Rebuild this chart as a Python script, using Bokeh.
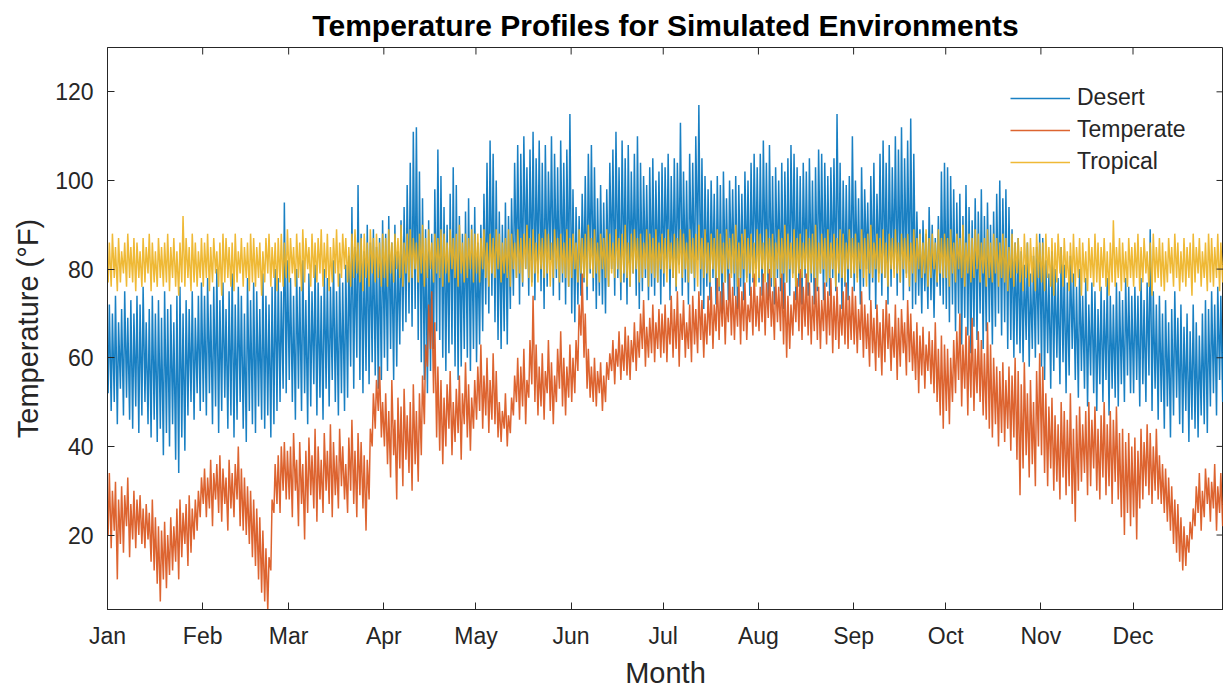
from bokeh.plotting import figure
from bokeh.models import FixedTicker, Legend, LegendItem, Range1d
from bokeh.embed import file_html
from bokeh.resources import INLINE

# ---- tick labels ------------------------------------------------------------
month_labels = ["Jan", "Feb", "Mar", "Apr", "May", "Jun",
                "Jul", "Aug", "Sep", "Oct", "Nov", "Dec"]
month_start_days = [0, 31, 59, 90, 120, 151, 181, 212, 243, 273, 304, 334]
y_ticks = [20, 40, 60, 80, 100, 120]

# ---- daily highs / lows (°F), one value per day of the year ----------------
desert_hi = (
    [72,70,74,68,71,75,69,73,70,74, 72,76,68,71,74,70,73,69,75,71, 72,68,74,76,70,73,71,75,69,74, 77]
  + [74,78,72,76,80,73,77,71,75,79, 72,76,74,70,78,73,77,75,71,79, 74,72,76,80,78,75,95,82]
  + [78,74,80,76,82,73,79,75,81,77, 74,80,78,76,82,75,79,77,81,83, 94,85,99,88,84,90,86,89,85,87, 91]
  + [88,92,86,90,84,91,94,99,104,111, 112,102,96,89,91,88,98,107,101,94, 90,97,103,99,92,88,93,96,90,94]
  + [86,90,97,104,109,106,100,93,90,95, 92,96,104,108,106,110,103,107,111,105, 109,104,108,102,110,106,103,109,104,107, 115]
  + [98,94,92,97,101,106,108,103,96,99, 95,98,104,107,111,103,109,105,108,102, 106,110,104,101,99,103,105,100,102,104]
  + [103,106,101,105,104,113,102,100,106,104, 110,117,105,101,98,100,97,101,99,102, 96,100,98,101,99,97,102,100,104,106, 103]
  + [106,109,104,108,101,103,100,104,102,105, 108,106,103,101,104,102,105,100,103,107, 106,104,101,103,105,115,104,100,99,101, 110]
  + [100,96,103,98,95,101,104,97,106,109, 104,108,103,110,107,112,105,109,114,106, 93,89,91,88,94,90,87,92,102,104]
  + [103,101,98,95,97,92,99,94,91,96, 93,98,92,95,90,93,97,100,96,98, 94,89,86,87,84,81,86,79,83,85, 88]
  + [87,82,79,84,80,78,85,81,77,83, 79,76,80,74,78,72,77,75,71,76, 73,78,74,72,77,75,73,78,76,74]
  + [76,74,78,73,77,89,75,72,74,70, 73,68,71,75,69,72,67,70,66,72, 68,65,70,73,71,75,72,76,74,71, 73]
)
desert_lo = (
    [52,48,50,45,53,47,51,46,44,49, 43,47,50,45,42,46,41,44,38,43, 40,45,37,34,42,39,47,50,46,52, 48]
  + [50,47,52,45,49,43,48,51,44,47, 42,46,50,44,41,48,45,43,49,46, 44,47,42,45,48,50,53,52]
  + [55,50,46,53,48,52,45,49,54,47, 51,46,53,49,55,50,47,52,48,51, 58,53,60,55,52,57,54,59,56,53, 55]
  + [60,57,62,55,58,63,66,68,70,67, 71,64,59,55,52,57,62,66,64,60, 57,61,63,58,55,58,62,60,57,62]
  + [59,63,66,72,70,74,68,64,62,66, 63,71,74,78,72,76,80,74,77,73, 79,75,71,76,82,74,78,73,77,72, 76]
  + [70,68,72,74,77,73,79,75,71,74, 72,70,76,80,74,78,73,77,72,76, 79,74,71,75,78,73,76,74,77,72]
  + [76,80,73,78,75,81,74,77,72,79, 75,82,74,71,76,73,78,72,75,70, 77,73,79,74,71,76,73,78,74,77, 80]
  + [77,74,79,73,76,72,78,75,71,77, 74,79,73,76,72,78,74,77,72,75, 79,73,76,74,78,75,77,71,76,73, 78]
  + [75,78,72,76,80,73,77,71,79,74, 78,72,76,80,74,77,73,79,75,71, 72,74,70,75,71,73,69,76,74,72]
  + [71,68,72,66,70,63,69,65,61,67, 64,70,62,66,68,63,67,70,65,68, 62,64,60,63,61,59,64,58,62,60, 63]
  + [58,55,61,53,57,60,54,59,52,56, 62,55,51,57,53,49,56,52,48,54, 50,55,47,53,51,49,54,50,56,52]
  + [52,55,49,54,50,56,48,53,46,50, 44,49,42,47,51,45,43,48,41,46, 44,42,47,45,43,49,52,47,55,50, 53]
)

temperate_hi = (
    [34,30,32,28,31,29,33,27,30,28, 29,26,27,25,28,24,22,21,23,20, 24,22,26,28,25,27,29,26,28,30, 33]
  + [35,33,37,34,36,38,35,33,37,34, 36,40,35,33,31,30,28,26,24,21, 17,15,28,36,38,40,41,39]
  + [40,43,37,41,36,39,42,38,44,40, 37,43,39,45,41,38,44,40,36,42, 46,39,43,41,38,37,44,52,55,58, 50]
  + [52,48,55,46,51,49,53,47,50,54, 48,52,56,63,72,75,68,58,55,51, 54,57,50,53,56,52,59,54,51,55]
  + [58,63,56,60,55,61,57,50,48,52, 47,51,56,60,58,62,55,64,74,63, 58,61,57,64,59,56,62,66,60,58, 63]
  + [60,64,72,79,70,62,58,60,57,59, 56,59,61,64,62,66,63,67,65,64, 68,66,70,73,67,69,72,68,71,70]
  + [72,69,74,71,75,70,73,68,72,74, 71,75,73,70,74,76,72,78,75,77, 73,79,76,74,78,75,77,72,76,79, 74]
  + [76,79,77,80,75,78,76,79,77,74, 72,75,78,80,76,79,77,74,78,76, 73,77,75,78,74,76,72,75,77,74, 76]
  + [74,71,75,72,70,73,69,72,68,71, 73,70,67,72,69,71,68,73,70,66, 68,65,67,63,66,64,68,62,65,63]
  + [62,60,64,66,70,63,67,65,69,62, 66,64,61,68,63,60,58,57,59,55, 58,56,60,57,54,59,52,55,50,57, 61]
  + [58,52,49,51,47,45,50,48,46,52, 44,47,49,45,48,50,46,49,44,47, 50,45,48,46,49,43,44,41,43,40]
  + [42,39,44,41,45,43,40,44,38,36, 35,33,31,28,27,24,22,20,23,26, 31,34,30,35,33,32,36,31,34,30, 33]
)
temperate_lo = (
    [20,17,21,10,18,16,22,15,19,17, 20,18,17,19,14,12,9,5,10,8, 11,12,14,10,15,18,13,16,19,21, 24]
  + [27,24,26,22,28,25,23,27,21,26, 24,28,22,21,20,18,15,13,10,7, 5,3,12,25,27,25,30,28]
  + [28,24,30,22,27,19,25,29,26,23, 28,25,30,27,24,29,26,31,28,25, 30,27,24,29,26,21,28,40,44,48, 42]
  + [40,36,33,38,28,35,31,37,34,30, 36,32,38,45,58,62,52,42,39,36, 40,44,38,41,43,37,45,42,39,44]
  + [46,48,44,47,43,46,45,42,41,44, 40,43,47,50,46,49,45,51,54,50, 47,49,46,52,48,45,50,53,49,47, 51]
  + [50,52,57,65,60,53,51,50,49,52, 48,50,55,57,54,58,55,57,56,55, 59,57,60,62,58,60,61,59,62,60]
  + [61,59,63,60,62,58,64,60,62,59, 63,61,64,60,63,65,62,66,64,67, 63,68,65,64,67,63,66,64,68,65, 67]
  + [66,68,65,69,67,64,68,66,63,60, 62,65,68,66,64,67,65,63,66,64, 62,66,63,65,61,64,62,65,63,62, 64]
  + [63,61,64,60,62,58,61,57,60,56, 59,62,57,60,55,58,61,56,59,57, 55,52,56,53,57,54,52,50,47,44]
  + [48,45,50,52,55,49,53,47,51,48, 52,50,47,46,44,42,45,40,43,41, 44,39,42,37,29,35,38,33,36,31, 40]
  + [38,34,31,35,30,32,28,33,29,31, 27,23,30,32,34,29,31,35,30,28, 33,29,31,27,32,28,24,20,25,22]
  + [24,19,26,28,31,29,27,30,28,27, 25,23,21,18,16,14,12,13,16,19, 22,25,21,24,27,23,26,21,25,22, 24]
)

tropical_hi = (
    [86,88,85,87,84,86,88,85,87,86, 84,87,85,88,86,84,87,85,86,88, 85,87,84,86,92,87,85,88,86,84, 87]
  + [86,88,85,87,84,86,88,87,85,86, 88,84,87,85,86,88,87,85,86,84, 87,88,85,86,87,88,86,89]
  + [87,85,88,86,89,87,85,88,86,87, 89,86,88,85,87,89,86,88,87,85, 88,89,86,87,88,86,89,87,88,86, 88]
  + [87,89,86,88,87,90,86,88,89,87, 86,88,90,87,89,86,88,87,89,88, 86,89,87,88,90,86,88,87,89,88]
  + [88,87,89,86,88,87,89,88,86,87, 89,88,86,89,87,88,90,87,89,86, 88,87,89,88,86,89,87,88,86,89, 87]
  + [88,86,89,87,88,90,87,89,86,88, 87,89,88,86,89,87,88,90,86,88, 89,87,88,86,89,88,87,89,86,88]
  + [87,89,86,88,87,89,88,86,89,87, 88,90,87,89,86,88,87,89,88,86, 89,87,88,90,86,88,89,87,88,86, 89]
  + [88,86,89,87,88,86,89,87,90,88, 86,89,87,88,86,89,87,88,90,86, 88,87,89,86,88,87,89,88,86,89, 87]
  + [88,86,89,87,88,90,86,88,87,89, 86,88,87,89,86,88,87,88,86,89, 87,88,86,89,87,88,86,89,87,88]
  + [87,89,86,88,87,90,86,88,87,89, 88,86,87,89,86,88,87,86,88,87, 85,88,86,87,85,88,86,87,85,88, 86]
  + [86,88,85,87,86,88,85,87,84,86, 88,85,87,86,84,87,85,88,86,85, 87,84,86,91,85,87,86,84,87,85]
  + [86,88,85,87,84,86,88,85,87,86, 84,87,85,88,86,84,87,85,86,88, 85,87,84,86,88,87,85,88,86,84, 87]
)
tropical_lo = (
    [77,76,78,75,77,79,76,78,77,75, 78,76,77,79,75,77,76,78,76,77, 75,78,76,74,77,76,78,75,77,76, 78]
  + [76,78,75,77,79,76,74,77,78,76, 75,77,79,76,78,75,77,76,78,74, 77,79,76,78,75,77,76,78]
  + [77,79,76,78,75,77,80,76,78,77, 79,76,78,75,77,79,76,78,80,77, 76,78,79,77,75,78,76,79,77,78, 76]
  + [78,76,79,77,80,78,76,79,77,78, 80,77,79,76,78,80,77,79,78,76, 79,77,80,78,76,79,77,78,80,77]
  + [79,77,80,78,76,79,78,80,77,79, 78,76,80,78,79,77,80,78,76,79, 77,80,78,79,76,78,80,77,79,78, 76]
  + [78,80,77,79,78,76,80,78,79,77, 80,78,76,79,78,80,77,79,78,76, 79,80,77,78,80,76,79,78,77,80]
  + [79,77,80,78,76,79,78,80,77,79, 78,76,80,78,79,77,80,78,76,79, 77,80,78,79,76,78,80,77,79,78, 76]
  + [78,80,77,79,78,76,80,78,79,77, 80,78,76,79,78,80,77,79,78,76, 79,80,77,78,80,76,79,78,77,80, 78]
  + [79,77,80,78,76,79,78,80,77,79, 78,76,80,78,79,77,80,78,76,79, 77,80,78,79,76,78,80,77,79,78]
  + [78,76,79,77,80,78,76,79,77,78, 80,77,79,76,78,77,79,76,78,77, 75,78,76,79,77,75,78,76,77,75, 78]
  + [77,75,78,76,74,77,79,76,78,75, 77,76,78,74,77,75,78,76,77,75, 78,76,74,77,76,78,75,77,76,78]
  + [76,78,75,77,79,76,74,77,78,76, 75,77,79,76,78,75,77,76,78,74, 77,79,76,78,75,77,76,78,75,77, 76]
)

series = [
    ("Desert", desert_hi, desert_lo, "#0072BD"),
    ("Temperate", temperate_hi, temperate_lo, "#D95319"),
    ("Tropical", tropical_hi, tropical_lo, "#EDB120"),
]

for name, hi, lo, _ in series:
    assert len(hi) == 365 and len(lo) == 365, (name, len(hi), len(lo))


def day_trace(hi, lo):
    """Night low then afternoon high for every day, in time order."""
    xs, ys = [], []
    for d, (h, l) in enumerate(zip(hi, lo)):
        xs.extend([d + 0.2, d + 0.6])
        ys.extend([l, h])
    return xs, ys


FONT = "Liberation Sans"
INK = "#262626"

LEFT, TOP, BOTTOM = 107, 47, 83
W, H = 1223, 692
PX_PER_DAY = 3.0704
Y_MIN, Y_MAX = 3.2, 130.0
frame_w = W - LEFT
frame_h = H - TOP - BOTTOM
X_MAX = frame_w / PX_PER_DAY
TICK_PX = 7

p = figure(width=W, height=H, output_backend="svg", toolbar_location=None,
           x_range=Range1d(0, X_MAX), y_range=Range1d(Y_MIN, Y_MAX),
           min_border_left=LEFT, min_border_right=0,
           min_border_top=TOP, min_border_bottom=BOTTOM)

p.background_fill_color = "white"
p.border_fill_color = "white"
p.outline_line_color = INK
p.outline_line_width = 1
p.xgrid.visible = False
p.ygrid.visible = False

p.title.text = "Temperature Profiles for Simulated Environments"
p.title.text_font = FONT
p.title.text_font_size = "30px"
p.title.text_font_style = "bold"
p.title.text_color = "black"
p.title.align = "center"
p.title.standoff = 12

legend_items = []
for name, hi, lo, color in series:
    xs, ys = day_trace(hi, lo)
    r = p.line(xs, ys, line_color=color, line_width=1.5, line_alpha=0.9)
    legend_items.append(LegendItem(label=name, renderers=[r]))

# inward tick marks along the top and right edges of the box
tick_dy = TICK_PX * (Y_MAX - Y_MIN) / frame_h
tick_dx = TICK_PX / PX_PER_DAY
p.segment(x0=month_start_days, y0=[Y_MAX] * 12, x1=month_start_days,
          y1=[Y_MAX - tick_dy] * 12, line_color=INK, line_width=1)
p.segment(x0=[X_MAX] * 6, y0=y_ticks, x1=[X_MAX - tick_dx] * 6, y1=y_ticks,
          line_color=INK, line_width=1)

month_overrides = {d: m for d, m in zip(month_start_days, month_labels)}


def style_axis(ax):
    ax.axis_line_color = INK
    ax.major_tick_line_color = INK
    ax.major_tick_in = TICK_PX
    ax.major_tick_out = 0
    ax.minor_tick_line_color = None
    ax.major_label_text_font = FONT
    ax.major_label_text_color = INK
    ax.major_label_text_font_size = "23px"
    ax.axis_label_text_font = FONT
    ax.axis_label_text_font_size = "29px"
    ax.axis_label_text_font_style = "normal"
    ax.axis_label_text_color = INK


xa = p.xaxis[0]
xa.ticker = FixedTicker(ticks=month_start_days)
xa.major_label_overrides = month_overrides
style_axis(xa)
xa.major_label_standoff = 13
xa.axis_label = "Month"
xa.axis_label_standoff = 5

ya = p.yaxis[0]
ya.ticker = FixedTicker(ticks=y_ticks)
style_axis(ya)
ya.major_label_standoff = 14
ya.axis_label = "Temperature (°F)"
ya.axis_label_standoff = 8

legend = Legend(items=legend_items, location=(903, 434),
                label_text_font=FONT, label_text_font_size="23px",
                label_text_color=INK, glyph_width=60, glyph_height=20,
                label_height=20, label_standoff=7, spacing=5,
                padding=0, margin=0, background_fill_alpha=0,
                border_line_color=None)
p.add_layout(legend)

open("out.html", "w").write(file_html(p, INLINE))
